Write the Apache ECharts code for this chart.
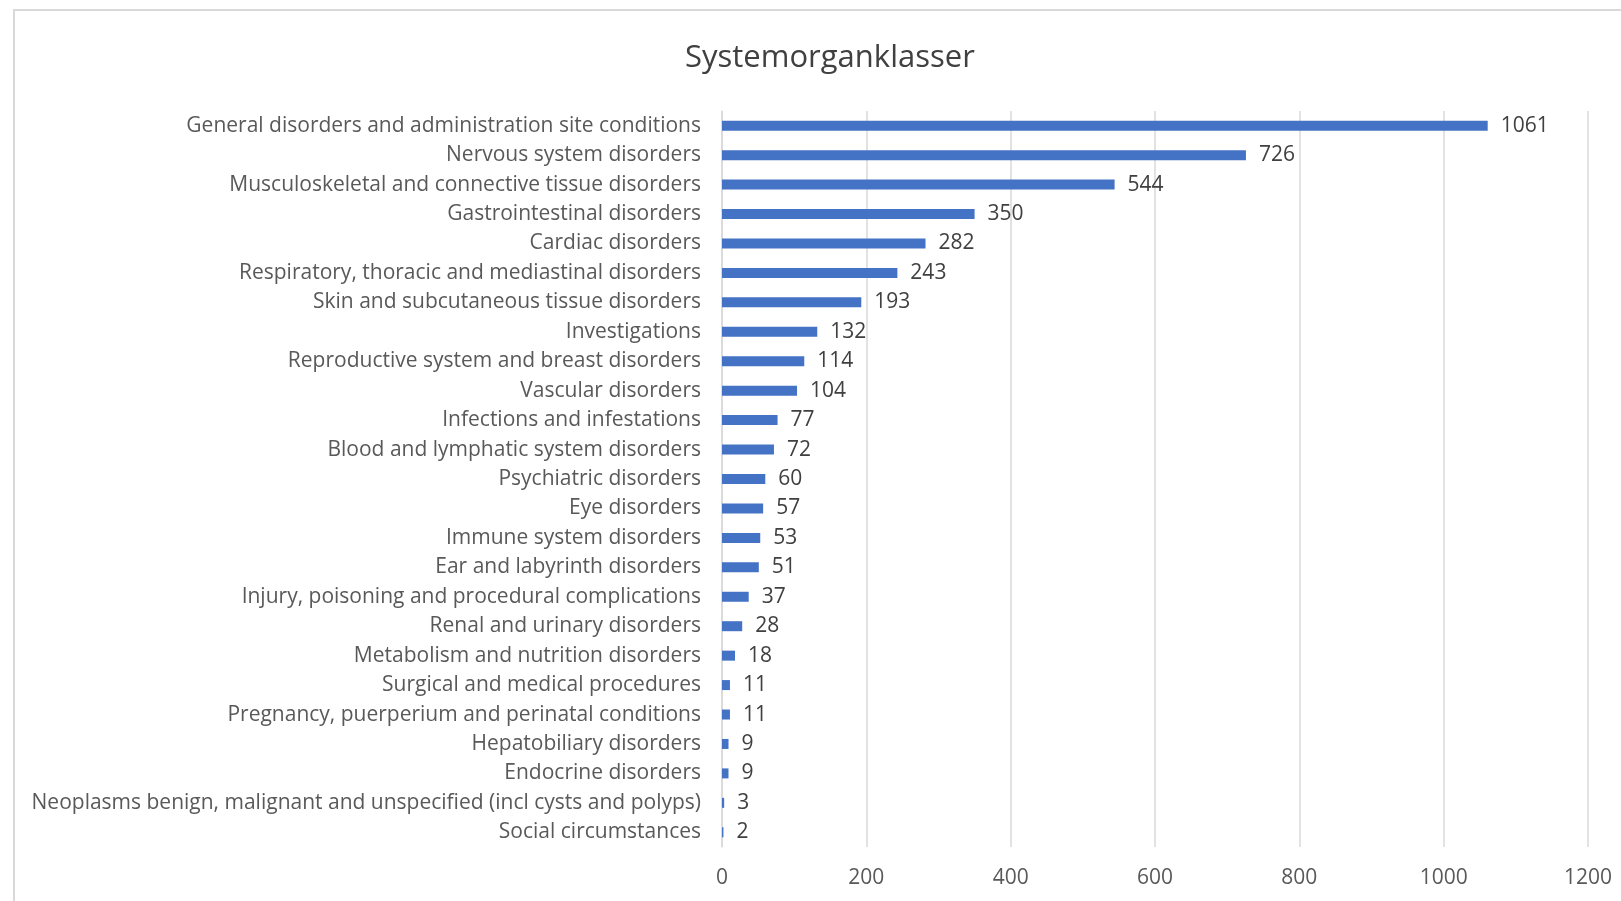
<!DOCTYPE html>
<html>
<head>
<meta charset="utf-8">
<script src="https://cdn.jsdelivr.net/npm/echarts@6/dist/echarts.min.js"></script>
<style>
  html, body { margin: 0; padding: 0; background: #fff; }
  #main { width: 1621px; height: 901px; }
</style>
</head>
<body>
<div id="main"></div>
<script>
const categories = [
    'General disorders and administration site conditions',
    'Nervous system disorders',
    'Musculoskeletal and connective tissue disorders',
    'Gastrointestinal disorders',
    'Cardiac disorders',
    'Respiratory, thoracic and mediastinal disorders',
    'Skin and subcutaneous tissue disorders',
    'Investigations',
    'Reproductive system and breast disorders',
    'Vascular disorders',
    'Infections and infestations',
    'Blood and lymphatic system disorders',
    'Psychiatric disorders',
    'Eye disorders',
    'Immune system disorders',
    'Ear and labyrinth disorders',
    'Injury, poisoning and procedural complications',
    'Renal and urinary disorders',
    'Metabolism and nutrition disorders',
    'Surgical and medical procedures',
    'Pregnancy, puerperium and perinatal conditions',
    'Hepatobiliary disorders',
    'Endocrine disorders',
    'Neoplasms benign, malignant and unspecified (incl cysts and polyps)',
    'Social circumstances'
]
const counts = [1061, 726, 544, 350, 282, 243, 193, 132, 114, 104, 77, 72, 60, 57, 53, 51, 37, 28, 18, 11, 11, 9, 9, 3, 2]
const xTicks = [0, 200, 400, 600, 800, 1000, 1200]

const chart = echarts.init(document.getElementById('main'), null, { renderer: 'canvas' })

const font = 'Open Sans'

let option = {
    backgroundColor: '#fff',
    animation: false,
    title: {
        text: 'Systemorganklasser',
        left: 680,
        top: 38,
        textStyle: {
            fontFamily: font,
            fontWeight: 'normal',
            fontSize: 31,
            color: '#404040'
        }
    },
    graphic: [{
        type: 'rect',
        shape: { x: 14, y: 10, width: 1700, height: 1000 },
        style: { fill: 'none', stroke: '#d9d9d9', lineWidth: 2 },
        silent: true
    }],
    grid: {
        left: 722,
        right: 33,
        top: 111,
        bottom: 54,
        containLabel: false
    },
    xAxis: {
        type: 'value',
        min: xTicks[0],
        max: xTicks[xTicks.length - 1],
        interval: 200,
        axisLine: { show: false },
        axisTick: { show: false },
        splitLine: { lineStyle: { color: '#d9d9d9', width: 1.5 } },
        axisLabel: {
            fontFamily: font,
            fontSize: 21,
            color: '#595959',
            margin: 21,
            formatter: v => String(v)
        }
    },
    yAxis: {
        type: 'category',
        inverse: true,
        data: categories,
        axisLine: { lineStyle: { color: '#d9d9d9', width: 1.5 } },
        axisTick: { show: false },
        axisLabel: {
            fontFamily: font,
            fontSize: 21,
            color: '#595959',
            margin: 21
        }
    },
    series: [{
        type: 'bar',
        data: counts,
        barWidth: 10,
        itemStyle: { color: '#4472c4' },
        label: {
            show: true,
            position: 'right',
            distance: 13,
            fontFamily: font,
            fontSize: 21,
            color: '#404040'
        }
    }]
}

chart.setOption(option)
</script>
</body>
</html>
